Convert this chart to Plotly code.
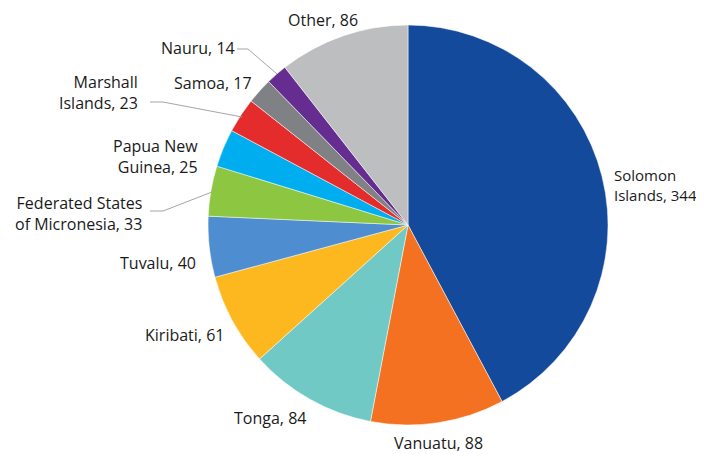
import plotly.graph_objects as go

countries = ["Solomon Islands", "Vanuatu", "Tonga", "Kiribati", "Tuvalu",
             "Federated States of Micronesia", "Papua New Guinea",
             "Marshall Islands", "Samoa", "Nauru", "Other"]
values = [344, 88, 84, 61, 40, 33, 25, 23, 17, 14, 86]
label_text = ["Solomon<br>Islands, 344", "Vanuatu, 88", "Tonga, 84", "Kiribati, 61",
              "Tuvalu, 40", "Federated States<br>of Micronesia, 33",
              "Papua New<br>Guinea, 25", "Marshall<br>Islands, 23", "Samoa, 17",
              "Nauru, 14", "Other, 86"]
colors = ["#134A9C", "#F37121", "#70C9C5", "#FDB71F", "#4F8DD1", "#8DC641",
          "#00AEEF", "#E42C2C", "#808184", "#662D91", "#BDBEC0"]

W, H = 704, 454
OFF = 8  # page body margin offset
cx, cy, R = 408 - OFF, 225 - OFF, 200

def px2paper(x, y):
    return (x - OFF) / W, 1 - (y - OFF) / H

fig = go.Figure(go.Pie(
    labels=countries, values=values, sort=False, direction="clockwise",
    rotation=0, marker=dict(colors=colors, line=dict(color="white", width=0.5)),
    textinfo="none", hoverinfo="label+value", showlegend=False,
    domain=dict(x=[(cx - R) / W, (cx + R) / W], y=[1 - (cy + R) / H, 1 - (cy - R) / H]),
))

placements = [
    (612, 185, "left", 15),
    (438, 443, "center", 16),
    (270, 418, "center", 16),
    (226, 335, "right", 16),
    (198, 263, "right", 16),
    (144, 213, "right", 16),
    (200, 156, "right", 16),
    (140, 92, "right", 16),
    (254, 83, "right", 16),
    (237, 48, "right", 16),
    (323, 20, "center", 16),
]
for txt, (px, py, al, sz) in zip(label_text, placements):
    ax, ay = px2paper(px, py)
    fig.add_annotation(x=ax, y=ay, xref="paper", yref="paper",
                       text=txt, showarrow=False, xanchor=al, yanchor="middle",
                       align=al,
                       font=dict(family="'Open Sans', sans-serif", size=sz, color="#1A1A1A"))

leaders = [
    [(150, 211), (163, 211), (212, 192)],
    [(150, 102), (163, 102), (242, 117)],
    [(237, 49), (248, 49), (277, 74)],
]
for pts in leaders:
    path = "M " + " L ".join("{} {}".format(*px2paper(x, y)) for x, y in pts)
    fig.add_shape(type="path", path=path, xref="paper", yref="paper",
                  line=dict(color="#A6A6A6", width=1))

fig.update_layout(width=W, height=H, margin=dict(l=0, r=0, t=0, b=0),
                  paper_bgcolor="white", plot_bgcolor="white")
fig.write_html("out.html")
